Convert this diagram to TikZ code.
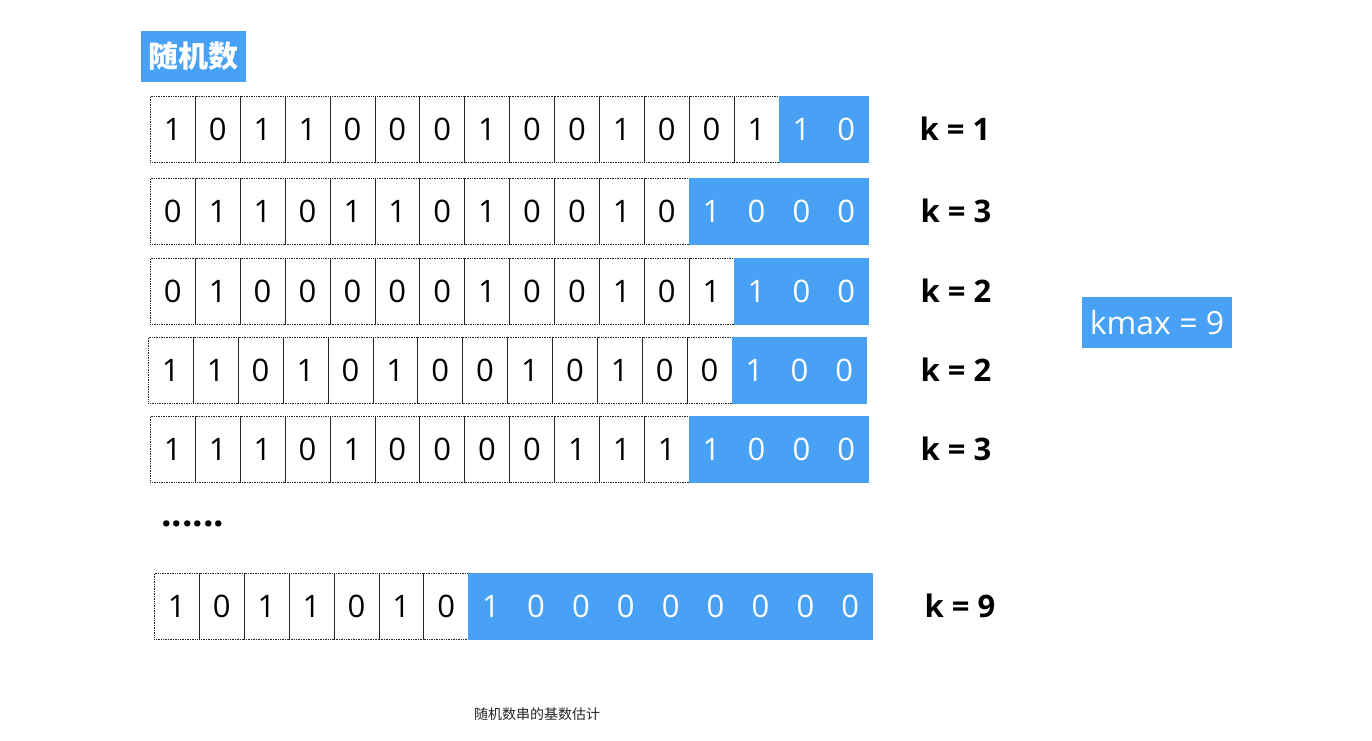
\documentclass[tikz,border=0pt]{standalone}
\usepackage{fontspec}
\setmainfont{Open Sans}
\newfontfamily\cjk{Noto Sans CJK SC}
\usetikzlibrary{positioning}
\definecolor{bitblue}{RGB}{72,161,245}

\begin{document}
\begin{tikzpicture}[x=1pt, y=-1pt,
    bit/.style={draw=black!85, densely dotted, line width=0.7pt, minimum width=44.9pt, minimum height=66pt, inner sep=0pt, anchor=north west, font=\fontsize{31}{31}\selectfont},
    hot/.style={bit, solid, draw=bitblue, fill=bitblue, text=white},
    klabel/.style={font=\fontsize{31}{31}\selectfont\bfseries},
    tag/.style={fill=bitblue, text=white, inner sep=0pt}]
  \useasboundingbox[fill=white] (0,0) rectangle (1372,740);
  \node[tag, minimum width=105pt, minimum height=51pt, font=\cjk\bfseries\fontsize{30}{30}\selectfont] (title) at (193.5,56.5) {随机数};
  \foreach \row/\x/\y/\bits/\nhot/\k/\kx in {
      1/150/96/{1,0,1,1,0,0,0,1,0,0,1,0,0,1,1,0}/2/1/955,
      2/150/178/{0,1,1,0,1,1,0,1,0,0,1,0,1,0,0,0}/4/3/956,
      3/150/258/{0,1,0,0,0,0,0,1,0,0,1,0,1,1,0,0}/3/2/956,
      4/148/337/{1,1,0,1,0,1,0,0,1,0,1,0,0,1,0,0}/3/2/956,
      5/150/416/{1,1,1,0,1,0,0,0,0,1,1,1,1,0,0,0}/4/3/956,
      6/154/573/{1,0,1,1,0,1,0,1,0,0,0,0,0,0,0,0}/9/9/960} {
    \pgfmathtruncatemacro\start{17-\nhot}
    \foreach \b [count=\j] in \bits {
      \ifnum\j<\start \def\sty{bit}\else \def\sty{hot}\fi
      \node[\sty] (r\row-c\j) at ({\x+44.9*(\j-1)},\y) {\b};
    }
    \node[klabel] (k\row) at (\kx,\y+33) {k = \k};
  }
  \node[font=\fontsize{37}{37}\selectfont\bfseries, anchor=base west, inner sep=0pt] (dots) at (161,526) {......};
  \node[tag, minimum width=150pt, minimum height=51pt, font=\fontsize{32}{32}\selectfont] (kmax) at (1157,322.5) {kmax = 9};
  \node[font=\cjk\fontsize{14}{14}\selectfont, text=black!85] (caption) at (537,714) {随机数串的基数估计};
\end{tikzpicture}
\end{document}
